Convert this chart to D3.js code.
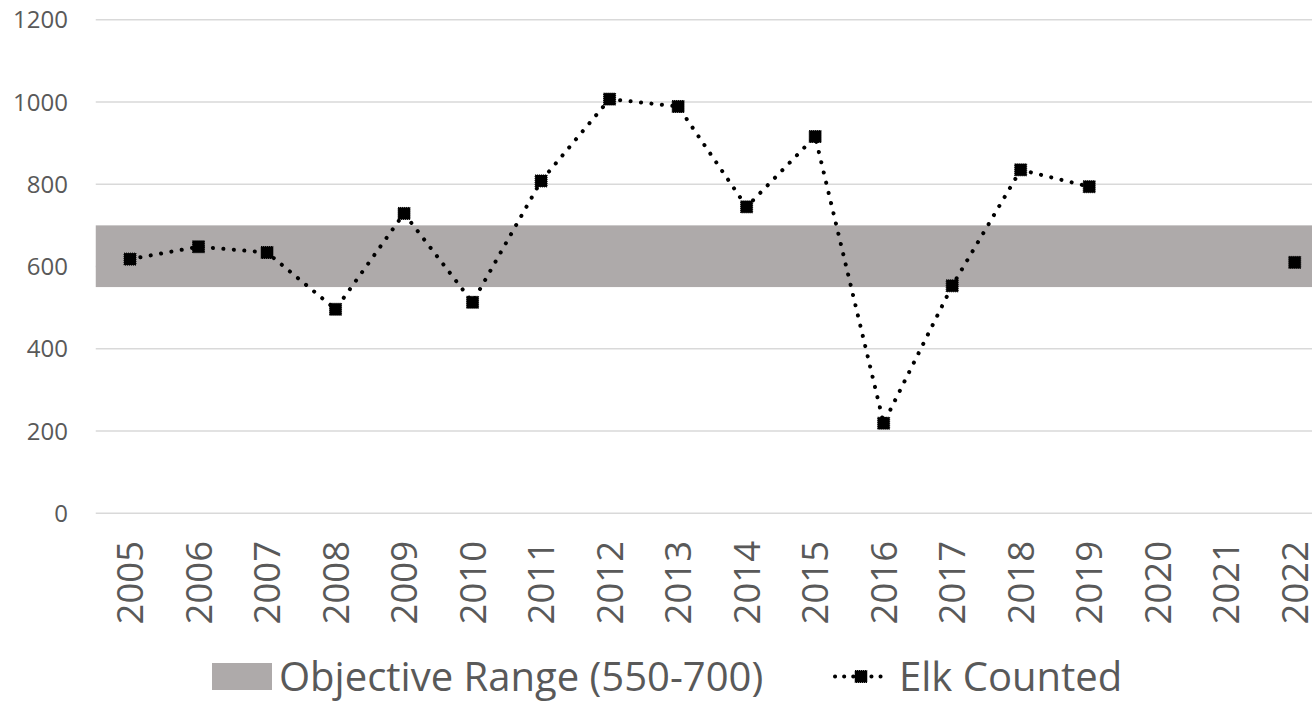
<!DOCTYPE html>
<html>
<head>
<meta charset="utf-8">
<script src="https://cdn.jsdelivr.net/npm/d3@7"></script>
<style>
  html, body { margin: 0; padding: 0; background: #fff; }
  svg { display: block; font-family: "Open Sans", "Noto Sans", sans-serif; }
</style>
</head>
<body>
<svg id="chart" width="1312" height="702"></svg>
<script>
const years = ["2005","2006","2007","2008","2009","2010","2011","2012","2013","2014","2015","2016","2017","2018","2019","2020","2021","2022"];
const elkCounted = [618, 648, 634, 496, 729, 513, 808, 1007, 989, 745, 916, 219, 553, 835, 794, null, null, 610];
const objectiveLow = 550;
const objectiveHigh = 700;
const yTicks = [0, 200, 400, 600, 800, 1000, 1200];
const legendLabels = ["Objective Range (550-700)", "Elk Counted"];

(function () {
const svg = d3.select("#chart");
const mLeft = 95.75, mRight = 1329, mTop = 19.7, mBottom = 513.3;

const x = d3.scaleBand().domain(years).range([mLeft, mRight]).padding(0);
const y = d3.scaleLinear().domain([0, 1200]).range([mBottom, mTop]);
const cx = d => x(d) + x.bandwidth() / 2;

// gridlines
svg.append("g").selectAll("line").data(yTicks).join("line")
  .attr("x1", mLeft).attr("x2", 1312)
  .attr("y1", d => y(d)).attr("y2", d => y(d))
  .attr("stroke", "#d9d9d9").attr("stroke-width", 1.5);

// objective band
svg.append("rect")
  .attr("x", mLeft).attr("width", mRight - mLeft)
  .attr("y", y(objectiveHigh)).attr("height", y(objectiveLow) - y(objectiveHigh))
  .attr("fill", "#aeaaaa");

// y axis labels
svg.append("g").selectAll("text").data(yTicks).join("text")
  .attr("x", 68).attr("y", d => y(d)).attr("dy", "0.36em")
  .attr("text-anchor", "end").attr("fill", "#595959")
  .style("font-size", "24px").text(d => d);

// x axis labels
svg.append("g").selectAll("text").data(years).join("text")
  .attr("transform", d => `translate(${cx(d)},541) rotate(-90)`)
  .attr("dy", "0.36em").attr("text-anchor", "end").attr("fill", "#595959")
  .style("font-size", "36.5px").text(d => d);

// line
const pts = years.map((yr, i) => ({yr, v: elkCounted[i]}));
const line = d3.line().defined(d => d.v != null).x(d => cx(d.yr)).y(d => y(d.v));
svg.append("path").datum(pts)
  .attr("d", line).attr("fill", "none").attr("stroke", "#000")
  .attr("stroke-width", 4).attr("stroke-linecap", "round")
  .attr("stroke-dasharray", "0.1 10.4");

// markers
const ms = 12;
svg.append("g").selectAll("rect").data(pts.filter(d => d.v != null)).join("rect")
  .attr("x", d => cx(d.yr) - ms / 2).attr("y", d => y(d.v) - ms / 2)
  .attr("width", ms).attr("height", ms).attr("fill", "#000")
  .attr("stroke", "#000").attr("stroke-width", 1).attr("stroke-dasharray", "1 1");

// legend
const ly = 676.5;
const lg = svg.append("g");
lg.append("rect").attr("x", 212).attr("y", 663).attr("width", 60).attr("height", 27).attr("fill", "#aeaaaa");
lg.append("text").attr("x", 279).attr("y", ly).attr("dy", "0.36em").attr("fill", "#595959")
  .style("font-size", "40px").text(legendLabels[0]);
lg.append("line").attr("x1", 835).attr("x2", 887).attr("y1", ly).attr("y2", ly)
  .attr("stroke", "#000").attr("stroke-width", 4).attr("stroke-linecap", "round")
  .attr("stroke-dasharray", "0.1 9");
lg.append("rect").attr("x", 861 - ms / 2).attr("y", ly - ms / 2).attr("width", ms).attr("height", ms)
  .attr("fill", "#000").attr("stroke", "#000").attr("stroke-width", 1).attr("stroke-dasharray", "1 1");
lg.append("text").attr("x", 899).attr("y", ly).attr("dy", "0.36em").attr("fill", "#595959")
  .style("font-size", "40px").text(legendLabels[1]);
})();
</script>
</body>
</html>
